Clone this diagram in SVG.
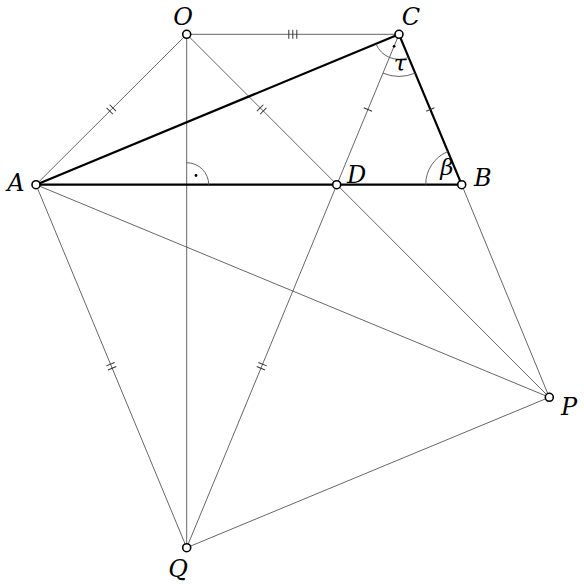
<svg xmlns="http://www.w3.org/2000/svg" width="584" height="587" viewBox="0 0 584 587">
<style>
.thin{stroke:#555;stroke-width:0.9;fill:none}
.thick{stroke:#000;stroke-width:2.2;fill:none}
.arc{stroke:#555;stroke-width:0.9;fill:none}
.tick{stroke:#333;stroke-width:1}
.node{fill:#fff;stroke:#000;stroke-width:1.6}
.lbl{font-family:"DejaVu Serif",serif;font-style:italic;font-size:24px;fill:#000}
.glbl{font-family:"DejaVu Serif",serif;font-style:italic;font-size:23px;fill:#000}
</style>
<rect width="584" height="587" fill="#fff"/>
<g id="connectors">
<line class="thin" x1="186.7" y1="34.3" x2="399" y2="34.3"/>
<line class="thin" x1="186.7" y1="34.3" x2="36" y2="184.7"/>
<line class="thin" x1="186.7" y1="34.3" x2="549.3" y2="397.3"/>
<line class="thin" x1="186.7" y1="34.3" x2="186.7" y2="547.7"/>
<line class="thin" x1="399" y1="34.3" x2="186.7" y2="547.7"/>
<line class="thin" x1="461.7" y1="184.7" x2="549.3" y2="397.3"/>
<line class="thin" x1="36" y1="184.7" x2="549.3" y2="397.3"/>
<line class="thin" x1="36" y1="184.7" x2="186.7" y2="547.7"/>
<line class="thin" x1="186.7" y1="547.7" x2="549.3" y2="397.3"/>
<line class="thick" x1="36" y1="184.7" x2="399" y2="34.3"/>
<line class="thick" x1="399" y1="34.3" x2="461.7" y2="184.7"/>
<line class="thick" x1="36" y1="184.7" x2="461.7" y2="184.7"/>
</g>
<g id="angles">
<path class="arc" d="M208.7 184.7 A22 22 0 0 0 186.7 162.7"/>
<circle cx="196" cy="175.5" r="1.4" fill="#000"/>
<path class="arc" d="M375.9 43.9 A25 25 0 0 0 408.6 57.4"/>
<circle cx="394.1" cy="46.3" r="1.4" fill="#000"/>
<path class="arc" d="M382.9 73.1 A42 42 0 0 0 415.2 73.1"/>
<path class="arc" d="M425.7 184.7 A36 36 0 0 1 447.8 151.5"/>
</g>
<g id="ticks">
<g transform="translate(292.8,34.3)"><line class="tick" x1="-4" y1="-4.5" x2="-4" y2="4.5"/><line class="tick" x1="0" y1="-4.5" x2="0" y2="4.5"/><line class="tick" x1="4" y1="-4.5" x2="4" y2="4.5"/></g>
<g transform="translate(111.3,109.5) rotate(135)"><line class="tick" x1="-2.2" y1="-4.5" x2="-2.2" y2="4.5"/><line class="tick" x1="2.2" y1="-4.5" x2="2.2" y2="4.5"/></g>
<g transform="translate(261.7,109.5) rotate(45)"><line class="tick" x1="-2.2" y1="-4.5" x2="-2.2" y2="4.5"/><line class="tick" x1="2.2" y1="-4.5" x2="2.2" y2="4.5"/></g>
<g transform="translate(261.7,366.2) rotate(112.5)"><line class="tick" x1="-2.2" y1="-4.5" x2="-2.2" y2="4.5"/><line class="tick" x1="2.2" y1="-4.5" x2="2.2" y2="4.5"/></g>
<g transform="translate(111.3,366.2) rotate(67.5)"><line class="tick" x1="-2.2" y1="-4.5" x2="-2.2" y2="4.5"/><line class="tick" x1="2.2" y1="-4.5" x2="2.2" y2="4.5"/></g>
<g transform="translate(367.9,109.5) rotate(112.5)"><line class="tick" x1="0" y1="-4.5" x2="0" y2="4.5"/></g>
<g transform="translate(430.3,109.5) rotate(67.4)"><line class="tick" x1="0" y1="-4.5" x2="0" y2="4.5"/></g>
</g>
<g id="node-O"><circle class="node" cx="186.7" cy="34.3" r="4"/><text class="lbl" x="183" y="25" text-anchor="middle">O</text></g>
<g id="node-C"><circle class="node" cx="399" cy="34.3" r="4"/><text class="lbl" x="411" y="25" text-anchor="middle">C</text></g>
<g id="node-A"><circle class="node" cx="36" cy="184.7" r="4"/><text class="lbl" x="16" y="191" text-anchor="middle">A</text></g>
<g id="node-D"><circle class="node" cx="336.7" cy="184.7" r="4"/><text class="lbl" x="347" y="183">D</text></g>
<g id="node-B"><circle class="node" cx="461.7" cy="184.7" r="4"/><text class="lbl" x="474" y="186">B</text></g>
<g id="node-P"><circle class="node" cx="549.3" cy="397.3" r="4"/><text class="lbl" x="561" y="415">P</text></g>
<g id="node-Q"><circle class="node" cx="186.7" cy="547.7" r="4"/><text class="lbl" x="178" y="577" text-anchor="middle">Q</text></g>
<g id="labels">
<text class="glbl" x="400" y="71" text-anchor="middle">τ</text>
<text class="glbl" x="447" y="175" text-anchor="middle">β</text>
</g>
</svg>
